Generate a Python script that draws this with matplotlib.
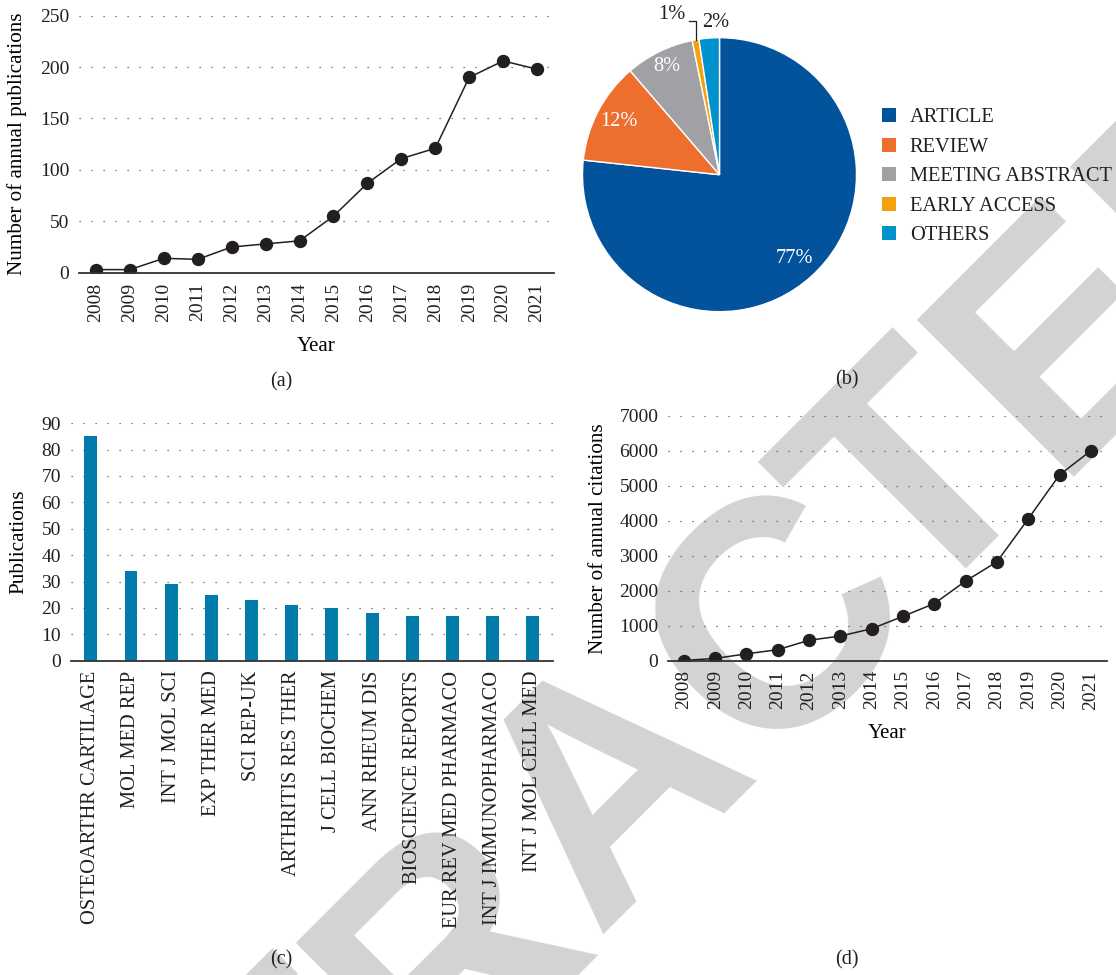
import matplotlib.pyplot as plt
from matplotlib.patches import Patch
import numpy as np

# ---- data ----
years = list(range(2008, 2022))
publications = [3, 3, 14, 13, 25, 28, 31, 55, 87, 111, 121, 190, 206, 198]
citations = [0, 60, 190, 310, 580, 700, 910, 1265, 1630, 2275, 2825, 4055, 5315, 6005]

doc_types = ['ARTICLE', 'REVIEW', 'MEETING ABSTRACT', 'EARLY ACCESS', 'OTHERS']
doc_share = [76.7, 12.0, 8.1, 0.8, 2.4]
doc_colors = ['#02529c', '#ee6f2d', '#a0a0a5', '#f4a00f', '#0092cc']

journals = ['OSTEOARTHR CARTILAGE', 'MOL MED REP', 'INT J MOL SCI', 'EXP THER MED',
            'SCI REP-UK', 'ARTHRITIS RES THER', 'J CELL BIOCHEM', 'ANN RHEUM DIS',
            'BIOSCIENCE REPORTS', 'EUR REV MED PHARMACO', 'INT J IMMUNOPHARMACO',
            'INT J MOL CELL MED']
journal_pubs = [85, 34, 29, 25, 23, 21, 20, 18, 17, 17, 17, 17]

TXT = '#231f20'
plt.rcParams['font.family'] = ['Liberation Serif', 'DejaVu Serif']
plt.rcParams['font.size'] = 14
plt.rcParams['text.color'] = TXT
plt.rcParams['xtick.color'] = TXT
plt.rcParams['ytick.color'] = TXT

W, H = 1116, 975
fig = plt.figure(figsize=(W / 100, H / 100), dpi=100)


def px_axes(x0, y0, x1, y1):
    # axes from pixel box (y measured from the top)
    return fig.add_axes([x0 / W, 1 - y1 / H, (x1 - x0) / W, (y1 - y0) / H])


def style_axes(ax):
    for s in ['top', 'right', 'left']:
        ax.spines[s].set_visible(False)
    ax.spines['bottom'].set_color('#333333')
    ax.spines['bottom'].set_linewidth(1.3)
    ax.spines['bottom'].set_zorder(4)
    ax.set_facecolor('none')
    ax.tick_params(length=0, pad=7, labelsize=14)
    ax.yaxis.grid(True, linestyle=(0, (1, 8.6)), color='#555555', linewidth=0.9)
    ax.set_axisbelow(True)


# "RETRACTED" watermark behind everything, one letter at a time along a 45 deg baseline
wm_letters = list('RETRACTED')
wm_centers = [-791, -572, -356, -356, -122, 112, 306, 515, 740]
wm_centers[2] = -572 + 0.0  # placeholder kept for clarity
wm_centers = [-1010, -791, -572, -356, -122, 112, 306, 515, 740]
for ch, u in zip(wm_letters, wm_centers):
    bx = (1530 + u * np.sqrt(2)) / 2
    by = (1530 - u * np.sqrt(2)) / 2
    fig.text(bx / W, 1 - by / H, ch, rotation=45, rotation_mode='anchor',
             ha='center', va='baseline', fontsize=233, fontweight='bold',
             family='Liberation Sans', color='#d3d3d3', zorder=-5)

# (a) annual publications
ax1 = px_axes(79, 15.7, 554, 272.7)
style_axes(ax1)
ax1.plot(years, publications, color=TXT, lw=1.1, marker='o', ms=8.6, zorder=3)
ax1.set_xlim(2007.5, 2021.5)
ax1.set_ylim(0, 250)
ax1.set_yticks(range(0, 251, 50))
ax1.set_xticks(years)
ax1.set_xticklabels([str(y) for y in years], rotation=90)
ax1.set_xlabel('Year', fontsize=15)
ax1.xaxis.set_label_coords(0.5, -0.25)
ax1.set_ylabel('Number of annual publications', fontsize=15.2)
ax1.yaxis.set_label_coords(-0.109, 0.5)
fig.text(281.7 / W, 1 - 381.7 / H, '(a)', ha='center', va='center', fontsize=14.5)

# (b) document types pie
ax2 = px_axes(719.5 - 137, 174.7 - 137, 719.5 + 137, 174.7 + 137)
wedges, _ = ax2.pie(doc_share, colors=doc_colors, startangle=90, counterclock=False,
                    wedgeprops=dict(edgecolor='white', linewidth=1.0))
ax2.set_xlim(-1, 1)
ax2.set_ylim(-1, 1)
inside_r = [0.82, 0.83, 0.88]
for w, r, v in zip(wedges[:3], inside_r, doc_share[:3]):
    ang = np.deg2rad((w.theta1 + w.theta2) / 2)
    ax2.text(r * np.cos(ang), r * np.sin(ang), f'{v:.0f}%', color='white',
             ha='center', va='center', fontsize=14.7)
# small slices labelled outside
w_ea = wedges[3]
ang = np.deg2rad((w_ea.theta1 + w_ea.theta2) / 2)
xe, ye = np.cos(ang), np.sin(ang)
ax2.plot([xe, xe, xe - 0.045], [ye, 1.125, 1.125], color=TXT, lw=0.9, clip_on=False)
ax2.text(xe - 0.17, 1.166, f'{doc_share[3]:.0f}%', ha='center', va='center',
         fontsize=14.7, clip_on=False)
ax2.text(xe + 0.15, 1.11, f'{doc_share[4]:.0f}%', ha='center', va='center',
         fontsize=14.7, clip_on=False)
handles = [Patch(facecolor=c, edgecolor='none') for c in doc_colors]
fig.legend(handles, doc_types, loc='upper left',
           bbox_to_anchor=(882 / W, 1 - 108 / H), frameon=False, fontsize=14.7,
           handlelength=0.68, handleheight=0.68, handletextpad=0.68,
           labelspacing=0.51, borderpad=0, borderaxespad=0)
fig.text(847 / W, 1 - 380 / H, '(b)', ha='center', va='center', fontsize=14.5)

# (c) top journals
ax3 = px_axes(70.7, 423.1, 552.9, 660.7)
style_axes(ax3)
xpos = np.arange(len(journals))
ax3.bar(xpos, journal_pubs, width=0.32, color='#007baa', zorder=3)
ax3.set_xlim(-0.5, len(journals) - 0.5)
ax3.set_ylim(0, 90)
ax3.set_yticks(range(0, 91, 10))
ax3.set_xticks(xpos)
ax3.set_xticklabels(journals, rotation=90, fontsize=14.7)
ax3.set_ylabel('Publications', fontsize=15.2)
ax3.yaxis.set_label_coords(-0.0886, 0.5)
fig.text(281.7 / W, 1 - 960 / H, '(c)', ha='center', va='center', fontsize=14.5)

# (d) annual citations
ax4 = px_axes(668.2, 416, 1106.5, 660.5)
style_axes(ax4)
ax4.plot(years, citations, color=TXT, lw=1.1, marker='o', ms=8.6, zorder=3)
ax4.set_xlim(2007.5, 2021.5)
ax4.set_ylim(0, 7000)
ax4.set_yticks(range(0, 7001, 1000))
ax4.set_xticks(years)
ax4.set_xticklabels([str(y) for y in years], rotation=90)
ax4.set_xlabel('Year', fontsize=15)
ax4.xaxis.set_label_coords(0.5, -0.26)
ax4.set_ylabel('Number of annual citations', fontsize=15.2)
ax4.yaxis.set_label_coords(-0.137, 0.5)
fig.text(847 / W, 1 - 960 / H, '(d)', ha='center', va='center', fontsize=14.5)

fig.savefig('out.png', dpi=100)
